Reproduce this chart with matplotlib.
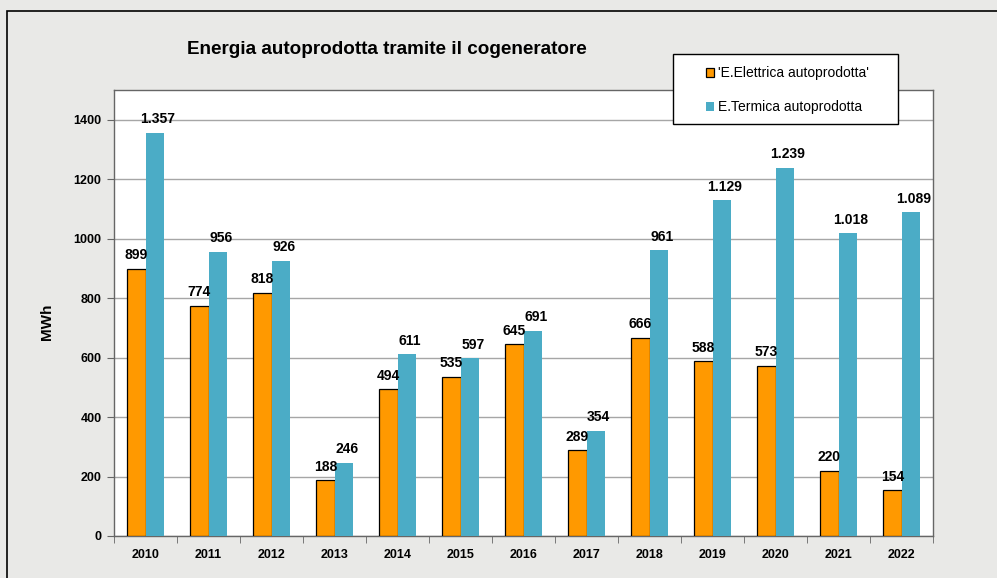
import numpy as np
import matplotlib.pyplot as plt
from matplotlib.patches import Rectangle

anni = ["2010", "2011", "2012", "2013", "2014", "2015", "2016",
        "2017", "2018", "2019", "2020", "2021", "2022"]
elettrica = [899, 774, 818, 188, 494, 535, 645, 289, 666, 588, 573, 220, 154]
termica = [1357, 956, 926, 246, 611, 597, 691, 354, 961, 1129, 1239, 1018, 1089]
y_ticks = [0, 200, 400, 600, 800, 1000, 1200, 1400]


def fmt_it(v):
    # separatore delle migliaia all'italiana
    return f"{v:,}".replace(",", ".")


plt.rcParams['font.family'] = ['Liberation Sans', 'DejaVu Sans']

W, H = 997, 578
fig = plt.figure(figsize=(W / 100, H / 100), dpi=100)
fig.patch.set_facecolor('#e9e9e7')

# cornice esterna
fig.add_artist(Rectangle((7 / W, -0.01), 1.2, 1 - 11 / H + 0.01,
                         transform=fig.transFigure, fill=False,
                         edgecolor='black', linewidth=1.2))

ax = fig.add_axes([114 / W, 1 - 536 / H, (933 - 114) / W, (536 - 90) / H])
ax.set_facecolor('white')

x = np.arange(len(anni))
w = 0.29
b1 = ax.bar(x - w / 2, elettrica, w, color='#ff9900', edgecolor='black',
            linewidth=0.9, zorder=3)
b2 = ax.bar(x + w / 2, termica, w, color='#4bacc6', edgecolor='none', zorder=3)

for xi, v in zip(x, elettrica):
    ax.text(xi - w / 2, v + 22, fmt_it(v), ha='center', va='bottom',
            fontsize=10, fontweight='bold', zorder=4)
for xi, v in zip(x, termica):
    ax.text(xi + w / 2 + 0.05, v + 22, fmt_it(v), ha='center', va='bottom',
            fontsize=10, fontweight='bold', zorder=4)

ax.set_xlim(-0.5, len(anni) - 0.5)
ax.set_ylim(0, 1500)
ax.set_yticks(y_ticks)
ax.set_yticklabels([str(t) for t in y_ticks], fontsize=9, fontweight='bold')
ax.yaxis.grid(True, color='#a6a6a6', linewidth=1.0, zorder=0)
ax.set_axisbelow(True)

ax.set_xticks(x)
ax.set_xticklabels(anni, fontsize=9, fontweight='bold')
ax.tick_params(axis='x', length=0, pad=9)
ax.set_xticks(np.arange(-0.5, len(anni)), minor=True)
ax.tick_params(axis='x', which='minor', length=5, direction='out', color='#666666')
ax.tick_params(axis='y', length=5, direction='out', color='#666666', pad=4)

for s in ax.spines.values():
    s.set_color('#666666')
    s.set_linewidth(1.0)

fig.text(47 / W, 1 - 322 / H, "MWh", rotation=90, ha='center', va='center',
         fontsize=11, fontweight='bold')

fig.text(387 / W, 1 - 50 / H, "Energia autoprodotta tramite il cogeneratore",
         ha='center', va='center', fontsize=13.6, fontweight='bold')

# riquadro della legenda
fig.add_artist(Rectangle((673 / W, 1 - 124 / H), (898 - 673) / W, 70 / H,
                         transform=fig.transFigure, facecolor='white',
                         edgecolor='black', linewidth=1.0, zorder=5))
leg = fig.legend([b1, b2], ["'E.Elettrica autoprodotta'", "E.Termica autoprodotta"],
                 loc='upper left', bbox_to_anchor=(706 / W, 1 - 66 / H),
                 frameon=False, fontsize=10,
                 handlelength=0.6, handleheight=0.6, handletextpad=0.25,
                 labelspacing=1.45, borderpad=0, borderaxespad=0)
leg.set_zorder(6)

fig.savefig("out.png", dpi=100, facecolor=fig.get_facecolor())
